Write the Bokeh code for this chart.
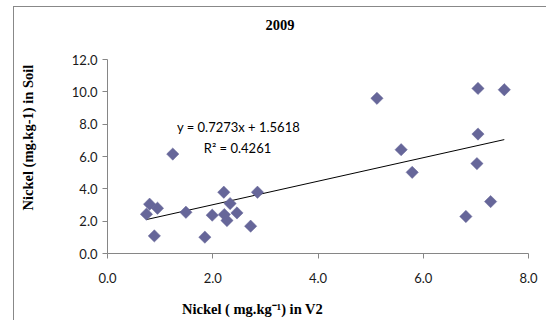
import numpy as np
from bokeh.plotting import figure
from bokeh.models import (Range1d, Label, Title, FixedTicker, PrintfTickFormatter,
                          ColumnDataSource)
from bokeh.embed import file_html
from bokeh.resources import INLINE

# ---- data ----
nickel_v2 = [0.74, 0.80, 0.95, 0.89, 1.24, 1.49, 1.85, 1.99, 2.21, 2.22, 2.27, 2.33,
             2.46, 2.72, 2.85, 5.12, 5.58, 5.79, 6.81, 7.02, 7.04, 7.04, 7.28, 7.54]
nickel_soil = [2.43, 3.05, 2.80, 1.09, 6.15, 2.55, 1.01, 2.37, 3.79, 2.41, 2.04, 3.09,
               2.51, 1.69, 3.79, 9.60, 6.42, 5.02, 2.29, 5.56, 7.39, 10.21, 3.21, 10.13]
slope = 0.7273
intercept = 1.5618
r_squared = 0.4261
x_ticks = [0, 2, 4, 6, 8]
y_ticks = [0, 2, 4, 6, 8, 10, 12]
title_text = "2009"
x_label = "Nickel ( mg.kg\u207b\u00b9) in V2"
y_label = "Nickel (mg.kg-1) in Soil"

W, H = 533, 314
ML, MR, MT, MB = 93, 19, 52, 68

p = figure(width=W, height=H, output_backend="svg", toolbar_location=None,
           x_range=Range1d(0, 8), y_range=Range1d(0, 12),
           min_border_left=ML, min_border_right=MR, min_border_top=MT, min_border_bottom=MB,
           styles={"margin-left": "13px", "margin-top": "6px",
                   "border-left": "1px solid #888888", "border-top": "1px solid #888888"})
p.outline_line_color = None
p.background_fill_color = "white"
p.border_fill_color = "white"
p.grid.visible = False

for ax in (p.xaxis[0], p.yaxis[0]):
    ax.axis_line_color = "#868686"
    ax.major_tick_line_color = "#868686"
    ax.major_tick_out = 5
    ax.major_tick_in = 0
    ax.minor_tick_line_color = None
    ax.major_label_text_font = "Lato"
    ax.major_label_text_font_size = "13px"
    ax.major_label_text_color = "#1a1a1a"
    ax.formatter = PrintfTickFormatter(format="%.1f")
p.xaxis[0].ticker = FixedTicker(ticks=x_ticks)
p.yaxis[0].ticker = FixedTicker(ticks=y_ticks)
p.xaxis[0].major_label_standoff = 14
p.yaxis[0].major_label_standoff = 5

# trend line
xs = np.array([min(nickel_v2), max(nickel_v2)])
p.line(xs, slope * xs + intercept, line_color="black", line_width=1)

src = ColumnDataSource(dict(x=nickel_v2, y=nickel_soil))
p.scatter("x", "y", source=src, marker="square", angle=np.pi / 4, size=8.7,
          fill_color="#666699", line_color="#666699", line_width=0.5)


def spacer(extent):
    # blank title used only to reserve room in a side panel
    return Title(text=" ", standoff=extent, text_font_size="1px", text_color="white")


serif = "Liberation Serif"
p.add_layout(spacer(27), "above")
p.add_layout(Title(text=title_text, align="left", offset=158, standoff=0,
                   text_font=serif, text_font_style="bold", text_font_size="14.5px",
                   text_color="black"), "above")
p.add_layout(spacer(10), "below")
p.add_layout(Title(text=x_label, align="left", offset=74.5, standoff=0,
                   text_font=serif, text_font_style="bold", text_font_size="14.5px",
                   text_color="black"), "below")
p.add_layout(spacer(30), "left")
p.add_layout(Title(text=y_label, align="left", offset=43, standoff=0,
                   text_font=serif, text_font_style="bold", text_font_size="14.5px",
                   text_color="black"), "left")

p.add_layout(Label(x=131, y=127, x_units="screen", y_units="screen",
                   text=f"y = {slope:.4f}x + {intercept:.4f}",
                   text_font="Lato", text_font_size="13px",
                   text_align="center", text_baseline="middle", text_color="black"))
p.add_layout(Label(x=130, y=105.3, x_units="screen", y_units="screen",
                   text=f"R\u00b2 = {r_squared:.4f}",
                   text_font="Lato", text_font_size="13px",
                   text_align="center", text_baseline="middle", text_color="black"))

open("out.html", "w").write(file_html(p, INLINE))
